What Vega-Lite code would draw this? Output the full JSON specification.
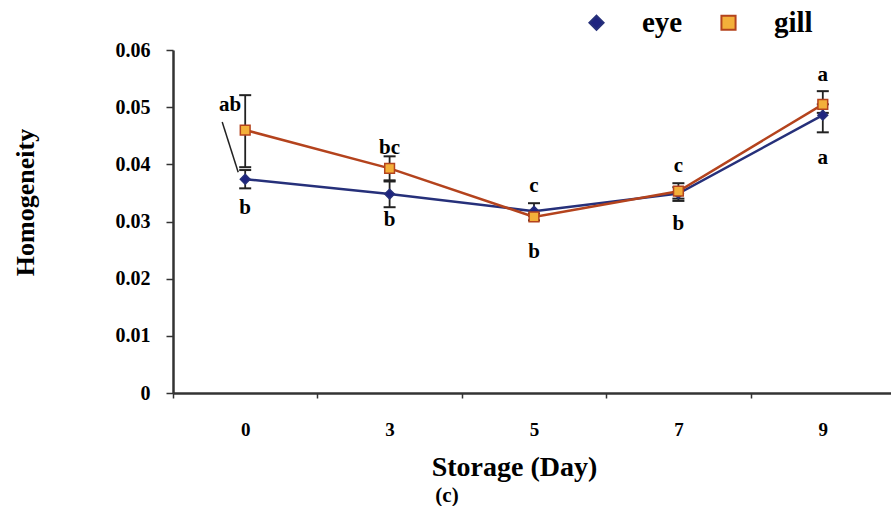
{
  "$schema": "https://vega.github.io/schema/vega-lite/v6.json",
  "width": 722,
  "height": 343,
  "autosize": {"type": "none"},
  "padding": {"left": 173, "top": 50, "right": 0, "bottom": 113},
  "background": "white",
  "config": {
    "view": {"stroke": null},
    "font": "Liberation Serif",
    "axis": {"grid": false}
  },
  "title": {
    "text": "(c)",
    "orient": "bottom",
    "anchor": "middle",
    "dx": -87,
    "offset": 4,
    "font": "Liberation Serif",
    "fontSize": 21,
    "fontWeight": "bold",
    "color": "black"
  },
  "datasets": {
    "pts": [
      {"day": "0", "series": "eye", "value": 0.0374, "lo": 0.0358, "hi": 0.0390},
      {"day": "3", "series": "eye", "value": 0.0348, "lo": 0.0325, "hi": 0.0370},
      {"day": "5", "series": "eye", "value": 0.0318, "lo": 0.0310, "hi": 0.0332},
      {"day": "7", "series": "eye", "value": 0.0349, "lo": 0.0336, "hi": 0.0360},
      {"day": "9", "series": "eye", "value": 0.0486, "lo": 0.0456, "hi": 0.0505},
      {"day": "0", "series": "gill", "value": 0.0460, "lo": 0.0395, "hi": 0.0521},
      {"day": "3", "series": "gill", "value": 0.0393, "lo": 0.0372, "hi": 0.0414},
      {"day": "5", "series": "gill", "value": 0.0308, "lo": 0.0302, "hi": 0.0314},
      {"day": "7", "series": "gill", "value": 0.0353, "lo": 0.0340, "hi": 0.0367},
      {"day": "9", "series": "gill", "value": 0.0505, "lo": 0.0490, "hi": 0.0528}
    ],
    "letters": [
      {"day": "0", "y": 0.0323, "letter": "b"},
      {"day": "3", "y": 0.0428, "letter": "bc"},
      {"day": "3", "y": 0.0302, "letter": "b"},
      {"day": "5", "y": 0.0362, "letter": "c"},
      {"day": "5", "y": 0.0247, "letter": "b"},
      {"day": "7", "y": 0.0397, "letter": "c"},
      {"day": "7", "y": 0.0295, "letter": "b"},
      {"day": "9", "y": 0.0556, "letter": "a"},
      {"day": "9", "y": 0.0411, "letter": "a"}
    ],
    "ab": [
      {"day": "0", "y": 0.0503, "letter": "ab", "py": 0.0474, "py2": 0.0386}
    ]
  },
  "layer": [
    {
      "data": {"name": "pts"},
      "mark": {"type": "rule", "color": "#222222", "strokeWidth": 1.8},
      "encoding": {
        "x": {
          "field": "day", "type": "ordinal", "sort": ["0", "3", "5", "7", "9"],
          "scale": {"type": "band", "paddingInner": 0, "paddingOuter": 0},
          "axis": {
            "title": "Storage (Day)",
            "titleFont": "Liberation Serif",
            "titleFontSize": 28,
            "titleFontWeight": "bold",
            "titleColor": "black",
            "titleX": 341,
            "titleY": 74,
            "titleBaseline": "middle",
            "labelAngle": 0,
            "labelFont": "Liberation Serif",
            "labelFontSize": 19,
            "labelFontWeight": "bold",
            "labelColor": "black",
            "labelPadding": 22,
            "tickBand": "extent",
            "tickSize": 5,
            "tickColor": "#333333",
            "tickWidth": 1.5,
            "domainColor": "#333333",
            "domainWidth": 2.5
          }
        },
        "y": {
          "field": "lo", "type": "quantitative",
          "scale": {"domain": [0, 0.06], "nice": false},
          "axis": {
            "title": "Homogeneity",
            "titleFont": "Liberation Serif",
            "titleFontSize": 26,
            "titleFontWeight": "bold",
            "titleColor": "black",
            "titleX": -148,
            "titleY": 152,
            "titleBaseline": "middle",
            "titleAngle": -90,
            "values": [0, 0.01, 0.02, 0.03, 0.04, 0.05, 0.06],
            "labelExpr": "datum.value === 0 ? '0' : format(datum.value, '.2f')",
            "labelFont": "Liberation Serif",
            "labelFontSize": 20,
            "labelFontWeight": "bold",
            "labelColor": "black",
            "labelPadding": 16,
            "tickSize": 7,
            "tickColor": "#333333",
            "tickWidth": 1.5,
            "domainColor": "#333333",
            "domainWidth": 2.5
          }
        },
        "y2": {"field": "hi"}
      }
    },
    {
      "data": {"name": "pts"},
      "mark": {"type": "tick", "color": "#222222", "thickness": 2, "size": 12, "opacity": 1},
      "encoding": {
        "x": {"field": "day", "type": "ordinal", "sort": ["0", "3", "5", "7", "9"]},
        "y": {"field": "lo", "type": "quantitative"}
      }
    },
    {
      "data": {"name": "pts"},
      "mark": {"type": "tick", "color": "#222222", "thickness": 2, "size": 12, "opacity": 1},
      "encoding": {
        "x": {"field": "day", "type": "ordinal", "sort": ["0", "3", "5", "7", "9"]},
        "y": {"field": "hi", "type": "quantitative"}
      }
    },
    {
      "data": {"name": "pts"},
      "mark": {"type": "line", "strokeWidth": 2.5},
      "encoding": {
        "x": {"field": "day", "type": "ordinal", "sort": ["0", "3", "5", "7", "9"]},
        "y": {"field": "value", "type": "quantitative"},
        "detail": {"field": "series"},
        "stroke": {
          "field": "series", "type": "nominal",
          "scale": {"domain": ["eye", "gill"], "range": ["#26307a", "#b4431d"]}
        }
      }
    },
    {
      "data": {"name": "pts"},
      "mark": {"type": "point", "filled": true, "opacity": 1, "strokeWidth": 1.5, "size": 95},
      "encoding": {
        "x": {"field": "day", "type": "ordinal", "sort": ["0", "3", "5", "7", "9"]},
        "y": {"field": "value", "type": "quantitative"},
        "shape": {
          "field": "series", "type": "nominal",
          "scale": {"domain": ["eye", "gill"], "range": ["diamond", "square"]}
        },
        "stroke": {"field": "series", "type": "nominal"},
        "fill": {
          "field": "series", "type": "nominal",
          "scale": {"domain": ["eye", "gill"], "range": ["#1e2480", "#f3b03a"]},
          "legend": {
            "orient": "none",
            "legendX": 409,
            "legendY": -42,
            "direction": "horizontal",
            "title": null,
            "labelFont": "Liberation Serif",
            "labelFontSize": 29,
            "labelFontWeight": "bold",
            "labelColor": "black",
            "symbolSize": 200,
            "symbolStrokeWidth": 2,
            "labelOffset": 31,
            "columnPadding": 31
          }
        }
      }
    },
    {
      "data": {"name": "letters"},
      "mark": {"type": "text", "font": "Liberation Serif", "fontSize": 21, "fontWeight": "bold", "color": "black", "baseline": "middle"},
      "encoding": {
        "x": {"field": "day", "type": "ordinal", "sort": ["0", "3", "5", "7", "9"]},
        "y": {"field": "y", "type": "quantitative"},
        "text": {"field": "letter"}
      }
    },
    {
      "data": {"name": "ab"},
      "mark": {"type": "text", "font": "Liberation Serif", "fontSize": 21, "fontWeight": "bold", "color": "black", "baseline": "middle", "dx": -15},
      "encoding": {
        "x": {"field": "day", "type": "ordinal", "sort": ["0", "3", "5", "7", "9"]},
        "y": {"field": "y", "type": "quantitative"},
        "text": {"field": "letter"}
      }
    },
    {
      "data": {"name": "ab"},
      "mark": {"type": "rule", "color": "#222222", "strokeWidth": 1.5, "xOffset": -23, "x2Offset": -7},
      "encoding": {
        "x": {"field": "day", "type": "ordinal", "sort": ["0", "3", "5", "7", "9"]},
        "x2": {"field": "day"},
        "y": {"field": "py", "type": "quantitative"},
        "y2": {"field": "py2"}
      }
    }
  ]
}
